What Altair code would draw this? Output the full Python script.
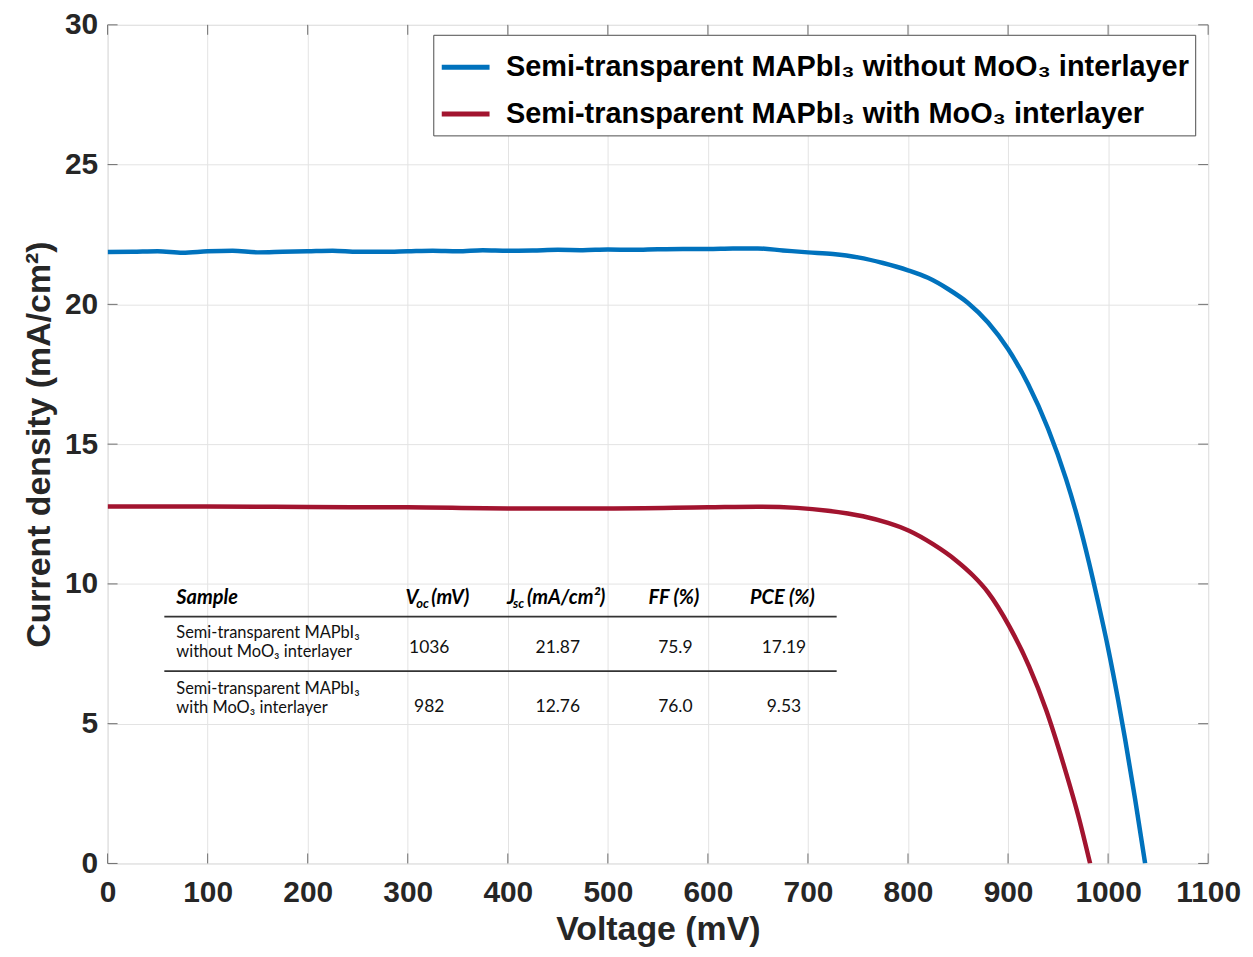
import altair as alt
import pandas as pd

# ---------------- data ----------------
S_WITHOUT = "Semi-transparent MAPbI₃ without MoO₃ interlayer"
S_WITH = "Semi-transparent MAPbI₃ with MoO₃ interlayer"

blue_v = [0, 25, 50, 75, 100, 125, 150, 175, 200, 225, 250, 275, 300, 325, 350, 375,
          400, 425, 450, 475, 500, 525, 550, 575, 600, 625, 650, 675, 700, 725, 750,
          775, 800, 820, 840, 860, 880, 900, 920, 940, 958, 970, 981, 990, 1000, 1010,
          1017, 1027, 1037]
blue_j = [21.87, 21.88, 21.90, 21.85, 21.90, 21.92, 21.86, 21.88, 21.90, 21.92, 21.88,
          21.88, 21.90, 21.92, 21.90, 21.94, 21.92, 21.93, 21.95, 21.94, 21.96, 21.95,
          21.97, 21.98, 21.98, 22.00, 22.00, 21.93, 21.86, 21.80, 21.68, 21.48, 21.22,
          20.95, 20.55, 20.05, 19.35, 18.40, 17.15, 15.55, 13.75, 12.30, 10.75, 9.35,
          7.70, 5.85, 4.45, 2.30, 0.0]

red_v = [0, 100, 200, 300, 400, 500, 600, 650, 689, 720, 755, 780, 801, 825, 848, 865,
         880, 901, 921, 938, 955, 971, 982]
red_j = [12.77, 12.77, 12.75, 12.74, 12.70, 12.70, 12.74, 12.76, 12.72, 12.62, 12.42,
         12.18, 11.90, 11.42, 10.84, 10.30, 9.70, 8.50, 7.05, 5.50, 3.60, 1.60, 0.0]

x_ticks = list(range(0, 1101, 100))
y_ticks = list(range(0, 31, 5))

# inset table contents
tbl_voc = ["1036", "982"]
tbl_jsc = ["21.87", "12.76"]
tbl_ff = ["75.9", "76.0"]
tbl_pce = ["17.19", "9.53"]
tbl_sample_l1 = ["Semi-transparent MAPbI₃", "Semi-transparent MAPbI₃"]
tbl_sample_l2 = ["without MoO₃ interlayer", "with MoO₃ interlayer"]

# table layout (in axis units: mV, mA/cm²)
col_left = 68.7
col_centers = [321.5, 450.0, 567.5, 676.0]
row_l1_y = [8.26, 6.24]
row_l2_y = [7.55, 5.57]
row_val_y = [7.70, 5.60]
header_y = 9.50
rule_y = [8.83, 6.88]
rule_x = [56.7, 728.7]
hdr_text = ["Sample", "V", "oc", "(mV)", "J", "sc", "(mA/cm²)", "FF (%)", "PCE (%)"]
hdr_x = [68.7, 297.7, 308.6, 323.5, 399.2, 405.2, 419.1, 540.6, 642.1]
hdr_sub = [False, False, True, False, False, True, False, False, False]

# ---------------- frames ----------------
curves = pd.DataFrame(
    {"V": blue_v + red_v,
     "J": blue_j + red_j,
     "Sample": [S_WITHOUT] * len(blue_v) + [S_WITH] * len(red_v)}
)

FONT = "Liberation Sans"
TFONT = "Lato"
W, H = 1105, 842

xs = alt.Scale(domain=[0, 1100], nice=False, zero=False)
ys = alt.Scale(domain=[0, 30], nice=False)

lines = alt.Chart(curves).mark_line(strokeWidth=4.5, clip=True, interpolate="monotone").encode(
    x=alt.X("V:Q", scale=xs,
            axis=alt.Axis(values=x_ticks, format="d", title="Voltage (mV)", grid=True,
                          gridColor="#e3e3e3", ticks=False, domain=False,
                          labelFont=FONT, labelFontSize=30, labelFontWeight="bold",
                          labelColor="#262626", labelPadding=14, labelFlush=False,
                          labelOverlap=False, titleFont=FONT, titleFontSize=34,
                          titleFontWeight="bold", titleColor="#262626", titlePadding=5)),
    y=alt.Y("J:Q", scale=ys,
            axis=alt.Axis(values=y_ticks, format="d", title="Current density (mA/cm²)",
                          grid=True, gridColor="#e3e3e3", ticks=False, domain=False,
                          labelFont=FONT, labelFontSize=30, labelFontWeight="bold",
                          labelColor="#262626", labelPadding=10, labelFlush=False,
                          labelOverlap=False, titleFont=FONT, titleFontSize=34,
                          titleFontWeight="bold", titleColor="#262626", titlePadding=8)),
    color=alt.Color("Sample:N",
                    scale=alt.Scale(domain=[S_WITHOUT, S_WITH], range=["#0072BD", "#A2142F"]),
                    legend=alt.Legend(orient="none", legendX=327, legendY=10, title=None,
                                      symbolType="stroke", symbolStrokeWidth=5,
                                      symbolSize=2304, labelFont=FONT, labelFontSize=29,
                                      labelFontWeight="bold", labelColor="black",
                                      labelLimit=1000, padding=6, strokeColor="#4d4d4d",
                                      fillColor="white", rowPadding=5, labelOffset=14,
                                      symbolOpacity=1)),
    order=alt.value(0),
)

# inner tick marks (MATLAB style box ticks)
xt = pd.DataFrame({"V": x_ticks})
yt = pd.DataFrame({"J": y_ticks})
tick_col = "#6e6e6e"
xtick_b = alt.Chart(xt).mark_rule(color=tick_col, strokeWidth=1).encode(
    x=alt.X("V:Q", scale=xs), y=alt.value(H), y2=alt.value(H - 10))
xtick_t = alt.Chart(xt).mark_rule(color=tick_col, strokeWidth=1).encode(
    x=alt.X("V:Q", scale=xs), y=alt.value(0), y2=alt.value(10))
ytick_l = alt.Chart(yt).mark_rule(color=tick_col, strokeWidth=1).encode(
    y=alt.Y("J:Q", scale=ys), x=alt.value(0), x2=alt.value(10))
ytick_r = alt.Chart(yt).mark_rule(color=tick_col, strokeWidth=1).encode(
    y=alt.Y("J:Q", scale=ys), x=alt.value(W), x2=alt.value(W - 10))

# table
hdr_df = pd.DataFrame({"t": hdr_text, "x": hdr_x, "sub": hdr_sub})
hdr_df["y"] = header_y
hdr_main = alt.Chart(hdr_df[~hdr_df["sub"]]).mark_text(
    font=TFONT, fontSize=20, fontWeight="bold", fontStyle="italic", align="left",
    baseline="middle", color="black").encode(
    x=alt.X("x:Q", scale=xs), y=alt.Y("y:Q", scale=ys), text="t:N")
hdr_subs = alt.Chart(hdr_df[hdr_df["sub"]]).mark_text(
    font=TFONT, fontSize=13, fontWeight="bold", fontStyle="italic", align="left",
    baseline="middle", dy=6, color="black").encode(
    x=alt.X("x:Q", scale=xs), y=alt.Y("y:Q", scale=ys), text="t:N")

sample_df = pd.DataFrame({
    "t": tbl_sample_l1 + tbl_sample_l2,
    "y": row_l1_y + row_l2_y,
})
sample_df["x"] = col_left
sample_txt = alt.Chart(sample_df).mark_text(
    font=TFONT, fontSize=16.5, align="left", baseline="middle", color="#111111").encode(
    x=alt.X("x:Q", scale=xs), y=alt.Y("y:Q", scale=ys), text="t:N")

val_rows = []
for i in range(2):
    for cx, v in zip(col_centers, [tbl_voc[i], tbl_jsc[i], tbl_ff[i], tbl_pce[i]]):
        val_rows.append({"t": v, "x": cx, "y": row_val_y[i]})
val_df = pd.DataFrame(val_rows)
val_txt = alt.Chart(val_df).mark_text(
    font=TFONT, fontSize=17.5, align="center", baseline="middle", color="#111111").encode(
    x=alt.X("x:Q", scale=xs), y=alt.Y("y:Q", scale=ys), text="t:N")

rule_df = pd.DataFrame({"y": rule_y, "x": [rule_x[0]] * 2, "x2": [rule_x[1]] * 2})
tbl_rules = alt.Chart(rule_df).mark_rule(color="#333333", strokeWidth=1.6).encode(
    x=alt.X("x:Q", scale=xs), x2="x2:Q", y=alt.Y("y:Q", scale=ys))

chart = alt.layer(
    xtick_b, xtick_t, ytick_l, ytick_r,
    tbl_rules, hdr_main, hdr_subs, sample_txt, val_txt,
    lines,
).properties(
    width=W, height=H,
    autosize=alt.AutoSizeParams(type="none"),
    padding={"left": 100, "top": 15, "right": 37, "bottom": 84},
).configure_view(
    stroke="#8a8a8a", strokeWidth=1.5
).configure(background="white")

chart.save("out.html", embed_options={"renderer": "svg", "actions": False})
